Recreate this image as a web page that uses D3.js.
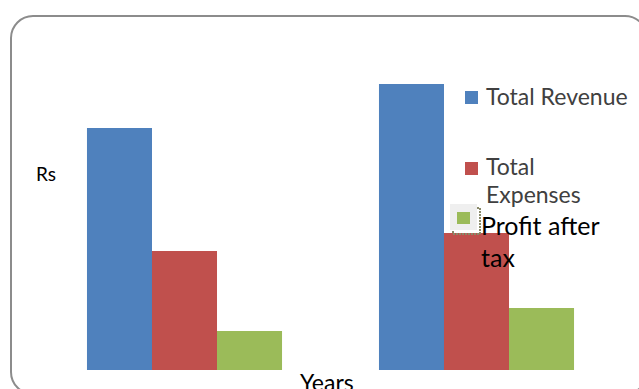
<!DOCTYPE html>
<html>
<head>
<meta charset="utf-8">
<script src="https://cdn.jsdelivr.net/npm/d3@7"></script>
<style>
body { margin:0; background:#fff; }
svg { display:block; font-family: Lato, "Open Sans", sans-serif; }
</style>
</head>
<body>
<svg width="639" height="389"></svg>
<script>
var years = ["Year 1", "Year 2"];
var series = ["Total Revenue", "Total Expenses", "Profit after tax"];
var colors = ["#4f81bd", "#c0504d", "#9bbb59"];
var revenue = [242, 286];
var expenses = [119, 137];
var profit = [39, 62];

var rows = years.map(function(y, i){
	return { year:y, values:[revenue[i], expenses[i], profit[i]] };
});

var svg = d3.select("svg");

// chart frame
svg.append("rect")
	.attr("x", 11).attr("y", 16)
	.attr("width", 636).attr("height", 378)
	.attr("rx", 22).attr("ry", 22)
	.attr("fill", "#fff")
	.attr("stroke", "#8c8c8c")
	.attr("stroke-width", 2);

var x0 = d3.scaleBand()
	.domain(years)
	.range([38.5, 622.5])
	.paddingInner(0.332)
	.paddingOuter(0.166);

var x1 = d3.scaleBand()
	.domain(d3.range(series.length))
	.range([0, x0.bandwidth()]);

var y = d3.scaleLinear()
	.domain([0, 300])
	.range([370, 70]);

var group = svg.selectAll().data(rows)
	.enter().append("g")
	.attr("transform", function(d){ return "translate(" + x0(d.year) + ",0)"; });

group.selectAll().data(function(d){ return d.values; })
	.enter().append("rect")
	.attr("x", function(d, i){ return x1(i); })
	.attr("y", function(d){ return y(d); })
	.attr("width", x1.bandwidth())
	.attr("height", function(d){ return y(0) - y(d); })
	.attr("fill", function(d, i){ return colors[i]; });

// axis titles
svg.append("text")
	.attr("x", 36).attr("y", 181)
	.attr("font-size", 19)
	.attr("fill", "#000")
	.text("Rs");

svg.append("text")
	.attr("x", 300).attr("y", 391)
	.attr("font-size", 23)
	.attr("fill", "#000")
	.text("Years");

// legend
var lg = svg.append("g");

lg.append("rect").attr("x", 465).attr("y", 91).attr("width", 13).attr("height", 13).attr("fill", colors[0]);
lg.append("text").attr("x", 486).attr("y", 105).attr("font-size", 23).attr("fill", "#404040").text("Total Revenue");

lg.append("rect").attr("x", 465).attr("y", 162).attr("width", 13).attr("height", 13).attr("fill", colors[1]);
lg.append("text").attr("x", 486).attr("y", 175).attr("font-size", 23).attr("fill", "#404040").text("Total");
lg.append("text").attr("x", 486).attr("y", 203).attr("font-size", 23).attr("fill", "#404040").text("Expenses");

lg.append("rect").attr("x", 453).attr("y", 208).attr("width", 27).attr("height", 26)
	.attr("fill", "none").attr("stroke", "#8a8a6a").attr("stroke-width", 2).attr("stroke-dasharray", "2,1");
lg.append("rect").attr("x", 450).attr("y", 204).attr("width", 27).attr("height", 26).attr("fill", "#efefef");
lg.append("rect").attr("x", 457).attr("y", 212).attr("width", 13).attr("height", 12).attr("fill", colors[2]);
lg.append("text").attr("x", 481).attr("y", 235).attr("font-size", 25).attr("fill", "#000").text("Profit after");
lg.append("text").attr("x", 481).attr("y", 267).attr("font-size", 25).attr("fill", "#000").text("tax");
</script>
</body>
</html>
